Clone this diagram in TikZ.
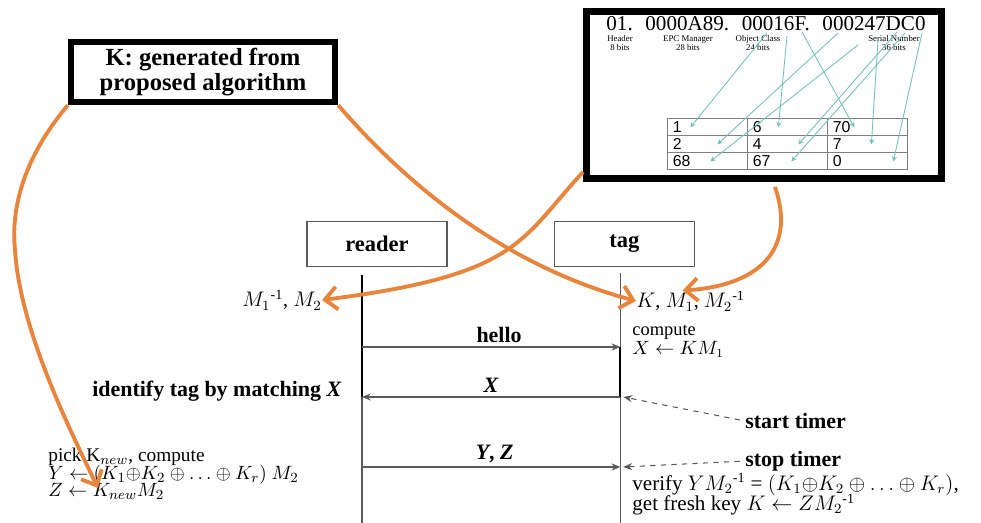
\documentclass[tikz,border=0pt]{standalone}
\usepackage{fontspec}
\setmainfont{Liberation Serif}
\newfontfamily\cellfont{Liberation Sans}
\usetikzlibrary{arrows.meta, positioning, calc, matrix}
\definecolor{PointerOrange}{HTML}{E8843C}
\definecolor{MapTeal}{HTML}{74C2BA}
\definecolor{LineGray}{HTML}{5A5A5A}
\tikzset{
    % Heavy framed box
    framed/.style={
        rectangle,
        draw=black,
        fill=white,
        line width=3.6pt,
        align=center
    },
    % Participant box
    party/.style={
        rectangle,
        draw=LineGray,
        fill=white,
        line width=0.8pt,
        minimum width=2.8cm,
        minimum height=0.9cm,
        font=\fontsize{12.8}{14}\selectfont\bfseries
    },
    % Lifeline
    life/.style={
        draw=LineGray,
        line width=0.7pt
    },
    % Active part of a lifeline
    active/.style={
        draw=black,
        line width=1.2pt
    },
    % Message arrow
    msg/.style={
        -{Stealth[length=5pt, width=4pt]},
        draw=LineGray,
        line width=0.7pt
    },
    % Orange pointer
    pointer/.style={
        -{Straight Barb[length=7pt, width=13pt]},
        draw=PointerOrange,
        line width=2.2pt
    },
    % Teal mapping arrow
    maparrow/.style={
        -{Stealth[length=3pt, width=3pt]},
        draw=MapTeal,
        line width=0.5pt
    },
    % Dashed timer hint
    hint/.style={
        -{Stealth[length=5pt, width=4pt]},
        draw=LineGray,
        dashed,
        line width=0.6pt,
        shorten <=3pt
    },
    % Plain note
    note/.style={
        inner sep=0pt,
        align=left,
        font=\fontsize{11.5}{12}\selectfont
    },
    % Bold note
    boldnote/.style={
        inner sep=0pt,
        font=\fontsize{12.5}{14}\selectfont\bfseries
    },
    % EPC field caption
    field/.style={
        inner sep=0pt,
        align=center,
        font=\fontsize{5}{5.5}\selectfont
    },
    % Table cell
    cell/.style={
        draw=gray,
        line width=0.6pt,
        text width=1.4cm,
        inner xsep=0.1cm,
        inner ysep=0pt,
        minimum height=0.34cm,
        align=left,
        font=\cellfont\fontsize{9}{10}\selectfont
    }
}

\begin{document}
\begin{tikzpicture}[x=0.02cm, y=-0.02cm]
    \useasboundingbox (0,0) rectangle (981,523);

    % Key source box
    \node (kbox) [framed, minimum width=5.28cm, minimum height=1.16cm, font=\fontsize{14}{14.5}\selectfont\bfseries] at (203,72) {K: generated from\\proposed algorithm};

    % EPC box
    \node (epc) [framed, line width=4pt, minimum width=7.1cm, minimum height=3.34cm] at (764,95) {};
    \node (epcid) [inner sep=0pt, font=\fontsize{12}{13}\selectfont] at (766,24) {01.\hspace{0.6em}0000A89.\hspace{0.6em}00016F.\hspace{0.6em}000247DC0};
    \node (hdr) [field] at (620,43) {Header\\8 bits};
    \node (mgr) [field] at (688,43) {EPC Manager\\28 bits};
    \node (cls) [field] at (758,43) {Object Class\\24 bits};
    \node (ser) [field] at (894,43) {Serial Number\\36 bits};
    \matrix (cells) [matrix of nodes, nodes={cell}, column sep=-0.6pt, row sep=-0.6pt, anchor=north west, inner sep=0pt] at (667,118) {
        1 & 6 & 70 \\
        2 & 4 & 7 \\
        68 & 67 & 0 \\
    };
    \foreach \sx/\sy/\cel/\dx [count=\i] in {767/33/1-1/23, 787/36/1-2/31, 802/32/1-3/27, 838/33/2-1/50, 897/32/2-2/51, 878/40/2-3/44, 858/45/3-1/43, 905/33/3-2/44, 922/33/3-3/66} {
        \coordinate (src\i) at (\sx,\sy);
        \draw [maparrow] (src\i) -- ($(cells-\cel.west)+(\dx,0)$);
    }

    % Participants and lifelines
    \node (reader) [party] at (377,244) {reader};
    \node (tag) [party, right=2.12cm of reader] {tag};
    \coordinate (rtop) at ($(reader.south)+(-15,8)$);
    \coordinate (ttop) at ($(tag.south)+(-4,6)$);
    \coordinate (lvlhello) at (0,347);
    \coordinate (lvlx) at (0,397);
    \coordinate (lvlyz) at (0,467);
    \coordinate (lvlend) at (0,523);
    \draw [life] (rtop) -- (rtop |- lvlend);
    \draw [life] (ttop) -- (ttop |- lvlend);
    \draw [active] (rtop) -- (rtop |- lvlx);
    \draw [active] (ttop |- lvlhello) -- (ttop |- lvlx);

    % Messages
    \draw [msg] (rtop |- lvlhello) -- node [boldnote, above=2pt, xshift=4.5pt] {hello} (ttop |- lvlhello);
    \draw [msg] (ttop |- lvlx) -- node [boldnote, above=2pt] {\textit{X}} (rtop |- lvlx);
    \draw [msg] (rtop |- lvlyz) -- node [boldnote, above=2pt, xshift=2pt] {\textit{Y}, \textit{Z}} (ttop |- lvlyz);

    % Notes
    \node (rkeys) [note, anchor=east, font=\fontsize{11.5}{12}\selectfont] at (322,300) {$M_1$\textsuperscript{-1}, $M_2$};
    \node (tkeys) [note, anchor=west, font=\fontsize{11.5}{12}\selectfont] at (636,301) {$K$, $M_1$, $M_2$\textsuperscript{-1}};
    \node (comp) [note, anchor=north west, font={\fontsize{10.5}{10.8}\selectfont\lineskiplimit=-10pt}] at (632,325) {compute\\$X \leftarrow KM_1$};
    \node (ident) [boldnote, anchor=east] at (342,391) {identify tag by matching \textit{X}};
    \node (start) [boldnote, anchor=west] at (745,421) {start timer};
    \node (stop) [boldnote, anchor=west] at (745,461) {stop timer};
    \node (verify) [note, anchor=north west, font={\fontsize{12}{11.6}\selectfont\lineskiplimit=-10pt}] at (632,473) {verify $YM_2$\textsuperscript{-1} = $(K_1 {\oplus} K_2 \oplus \ldots \oplus K_r)$,\\get fresh key $K \leftarrow ZM_2$\textsuperscript{-1}};
    \node (pick) [note, anchor=north west, font={\fontsize{11}{10}\selectfont\lineskiplimit=-10pt}] at (48,448) {pick K$_{new}$, compute\\$Y \leftarrow (K_1 {\oplus} K_2 \oplus \ldots \oplus K_r)\ M_2$\\$Z \leftarrow K_{new} M_2$};

    % Timer hints
    \coordinate (xin) at ($(ttop |- lvlx)+(3,0)$);
    \coordinate (yzin) at ($(ttop |- lvlyz)+(3,0)$);
    \draw [hint] (start.west) -- (xin);
    \draw [hint] (stop.west) -- (yzin);

    % Orange pointers
    \coordinate (knew) at (98,488);
    \draw [pointer] (kbox.south west) .. controls (30,150) and (10,200) .. (15,250) .. controls (20,330) and (70,430) .. (knew);
    \draw [pointer] (kbox.south east) .. controls (420,200) and (520,270) .. (tkeys.west);
    \draw [pointer] ($(epc.south west)+(0,-10)$) .. controls (520,240) and (520,275) .. (rkeys.east);
    \draw [pointer] ($(epc.south)+(11,5)$) .. controls (795,245) and (765,285) .. ($(tkeys.north)+(-8,0)$);
\end{tikzpicture}
\end{document}
